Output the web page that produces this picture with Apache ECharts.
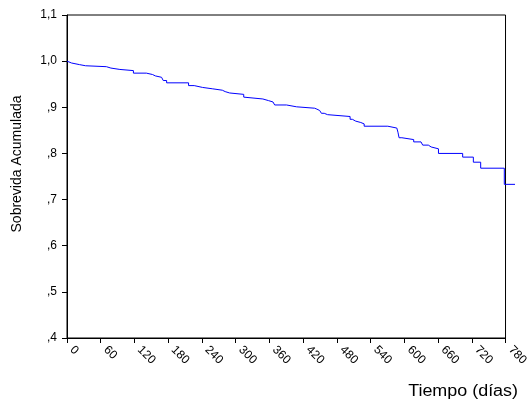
<!DOCTYPE html>
<html>
<head>
<meta charset="utf-8">
<script src="https://cdn.jsdelivr.net/npm/echarts@6/dist/echarts.min.js"></script>
<style>
  html, body { margin: 0; padding: 0; background: #fff; }
  #chart { width: 531px; height: 400px; }
</style>
</head>
<body>
<div id="chart"></div>
<script>
// Kaplan-Meier cumulative survival: event times (days) and survival after each event
const days = [0, 2, 8, 22, 33, 70, 78, 94, 118, 141, 152, 157, 168, 171, 177, 216, 226, 241, 259,
  276, 281, 289, 314, 317, 348, 358, 366, 369, 390, 408, 440, 444, 449, 452, 457, 463, 503, 507,
  513, 522, 528, 570, 586, 588, 589, 590, 595, 616, 629, 632, 642, 647, 660, 703, 722, 735, 777, 796];
const survival = [1.000, 0.996, 0.9925, 0.990, 0.988, 0.985, 0.982, 0.9795, 0.974, 0.971, 0.968,
  0.965, 0.961, 0.958, 0.953, 0.947, 0.943, 0.940, 0.937, 0.934, 0.931, 0.928, 0.922, 0.918, 0.9145,
  0.9115, 0.908, 0.905, 0.901, 0.898, 0.896, 0.893, 0.890, 0.887, 0.884, 0.880, 0.874, 0.870, 0.867,
  0.864, 0.859, 0.855, 0.852, 0.846, 0.840, 0.834, 0.830, 0.825, 0.821, 0.818, 0.814, 0.810, 0.800,
  0.792, 0.781, 0.768, 0.733, 0.733];

const xTickLabels = ['0', '60', '120', '180', '240', '300', '360', '420', '480', '540', '600', '660', '720', '780'];
const yTickLabels = [',4', ',5', ',6', ',7', ',8', ',9', '1,0', '1,1'];

const xLabel = 'Tiempo (días)';
const yLabel = 'Sobrevida Acumulada';

const FONT = '"Liberation Sans", Arial, sans-serif';

// frame: x from 0 to 780 days; the curve's last censored segment runs a little past it
const X_MAX = 780;
const LEFT = 67, RIGHT = 25, TOP = 15, BOTTOM = 62, OVERRUN = 9;
const plotWidth = 531 - LEFT - RIGHT;
const curveMax = X_MAX * (plotWidth + OVERRUN) / plotWidth;

const chart = echarts.init(document.getElementById('chart'), null, { renderer: 'canvas' });

chart.setOption({
  animation: false,
  backgroundColor: '#ffffff',
  grid: [
    { left: LEFT, top: TOP, right: RIGHT, bottom: BOTTOM,
      show: true, borderColor: '#000', borderWidth: 1, backgroundColor: 'transparent' },
    { left: LEFT, top: TOP, right: RIGHT - OVERRUN, bottom: BOTTOM, show: false }
  ],
  xAxis: [
    {
      gridIndex: 0, type: 'value', min: 0, max: X_MAX, interval: 60,
      axisLine: { show: true, lineStyle: { color: '#000', width: 1 } },
      axisTick: { show: true, length: 5, lineStyle: { color: '#000' } },
      splitLine: { show: false },
      axisLabel: {
        rotate: -45, margin: 5, padding: [0, 0, 0, 7],
        color: '#000', fontFamily: FONT, fontSize: 12,
        formatter: v => xTickLabels[Math.round(v / 60)] ?? ''
      }
    },
    {
      gridIndex: 1, type: 'value', min: 0, max: curveMax, show: false
    }
  ],
  yAxis: [
    {
      gridIndex: 0, type: 'value', min: 0.4, max: 1.1, interval: 0.1,
      axisLine: { show: true, lineStyle: { color: '#000', width: 1 } },
      axisTick: { show: true, length: 5, lineStyle: { color: '#000' } },
      splitLine: { show: false },
      axisLabel: {
        margin: 10, color: '#000', fontFamily: FONT, fontSize: 12,
        formatter: v => yTickLabels[Math.round((v - 0.4) * 10)] ?? ''
      }
    },
    {
      gridIndex: 1, type: 'value', min: 0.4, max: 1.1, show: false
    }
  ],
  graphic: [
    {
      type: 'text', x: 518, y: 384, scaleX: 1.12,
      style: { text: xLabel, fill: '#000', font: '16px ' + FONT, align: 'right', verticalAlign: 'top' }
    },
    {
      type: 'text', x: 10, y: 164, rotation: Math.PI / 2,
      style: { text: yLabel, fill: '#000', font: '14px ' + FONT, align: 'center', verticalAlign: 'top' }
    }
  ],
  series: [{
    type: 'line',
    xAxisIndex: 1,
    yAxisIndex: 1,
    step: 'end',
    symbol: 'none',
    z: 10,
    lineStyle: { color: '#0000ff', width: 1 },
    data: days.map((d, i) => [d, survival[i]])
  }]
});
</script>
</body>
</html>
